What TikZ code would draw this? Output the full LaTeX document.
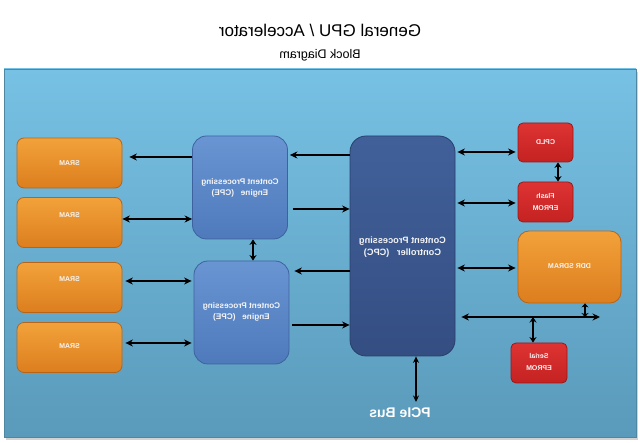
\documentclass[tikz,border=0pt]{standalone}
\usepackage{fontspec}
\setmainfont{Liberation Sans}
\usepackage{graphicx}
\usetikzlibrary{arrows.meta,calc}
\definecolor{bgtop}{HTML}{77C1E4}
\definecolor{bgbot}{HTML}{5A9ABA}
\definecolor{bgedge}{HTML}{4F87A3}
\definecolor{ortop}{HTML}{F2A23A}
\definecolor{orbot}{HTML}{DC7E1E}
\definecolor{oredge}{HTML}{B86418}
\definecolor{cpetop}{HTML}{6A95D3}
\definecolor{cpebot}{HTML}{4E79BB}
\definecolor{cpeedge}{HTML}{3E62A0}
\definecolor{cpctop}{HTML}{41609A}
\definecolor{cpcbot}{HTML}{344E82}
\definecolor{cpcedge}{HTML}{283F6A}
\definecolor{redtop}{HTML}{DE3333}
\definecolor{redbot}{HTML}{C42222}
\definecolor{rededge}{HTML}{9A1818}
\newcommand\mirtxt[1]{\scalebox{-1}[1]{\begin{tabular}{@{}c@{}}#1\end{tabular}}}
\begin{document}
\begin{tikzpicture}[x=1pt,y=-1pt,
  boxbase/.style={rounded corners=#1, line width=0.8pt, inner sep=0pt},
  srambox/.style={boxbase=7pt, draw=oredge, top color=ortop, bottom color=orbot, minimum width=105pt, minimum height=50pt},
  cpebox/.style={boxbase=14pt, draw=cpeedge, top color=cpetop, bottom color=cpebot, minimum width=95pt, minimum height=103pt},
  cpcbox/.style={boxbase=16pt, draw=cpcedge, top color=cpctop, bottom color=cpcbot, minimum width=105pt, minimum height=220pt},
  redbox/.style={boxbase=5pt, draw=rededge, top color=redtop, bottom color=redbot, minimum width=55pt, minimum height=40pt},
  ddrbox/.style={boxbase=11pt, draw=oredge, top color=ortop, bottom color=orbot, minimum width=103pt, minimum height=72pt},
  boxtxt/.style={text=white!92!gray, font=\fontsize{7}{8.5}\selectfont\bfseries, inner sep=0pt},
  bigtxt/.style={text=white!92!gray, font=\fontsize{8.2}{10}\selectfont\bfseries, inner sep=0pt},
  cpctxt/.style={text=white!92!gray, font=\fontsize{9.2}{11.5}\selectfont\bfseries, inner sep=0pt},
  one/.style={line width=2.6pt, -{Stealth[length=7.5pt,width=7pt]}},
  two/.style={line width=2.6pt, {Stealth[length=7.5pt,width=7pt]}-{Stealth[length=7.5pt,width=7pt]}},
  twos/.style={line width=2.6pt, {Stealth[length=5.5pt,width=7pt]}-{Stealth[length=5.5pt,width=7pt]}}
]
\useasboundingbox (0,0) rectangle (640,443);
\fill[white] (0,0) rectangle (640,443);
% background panel
\fill[gray!35] (6,72) rectangle (638,440);
\shade[top color=bgtop, bottom color=bgbot, draw=bgedge, line width=0.6pt] (4,69) rectangle (636,437);

% title
\node[inner sep=0pt, font=\fontsize{17}{19}\selectfont] (title) at (320,33) {\mirtxt{General GPU / Accelerator}};
\node[inner sep=0pt, font=\fontsize{12.5}{14}\selectfont] (subtitle) at (320,56) {\mirtxt{Block Diagram}};

% SRAM boxes
\node[srambox] (sram1) at (69.5,163) {};
\node[srambox] (sram2) at (69.5,222.5) {};
\node[srambox] (sram3) at (69.5,287.5) {};
\node[srambox] (sram4) at (69.5,347.5) {};
\node[boxtxt] (t1) at (69.5,164) {\mirtxt{SRAM}};
\node[boxtxt] (t2) at (69.5,216) {\mirtxt{SRAM}};
\node[boxtxt] (t3) at (69.5,280) {\mirtxt{SRAM}};
\node[boxtxt] (t4) at (69.5,347) {\mirtxt{SRAM}};

% CPE boxes
\node[cpebox] (cpe1) at (240,187.5) {};
\node[cpebox] (cpe2) at (241.5,312.5) {};
\node[bigtxt] (tc1) at (240,188) {\mirtxt{Content Processing\\[1pt]Engine\ \ \ (CPE)}};
\node[bigtxt] (tc2) at (241.5,312) {\mirtxt{Content Processing\\[1pt]Engine\ \ \ (CPE)}};

% CPC
\node[cpcbox] (cpc) at (402.5,246) {};
\node[cpctxt] (tcpc) at (402.5,247) {\mirtxt{Content Processing\\[1pt]Controller\ \ \ (CPC)}};

% right side
\node[redbox, minimum height=39pt] (cpld) at (545.5,142.5) {};
\node[redbox] (flash) at (545.5,202) {};
\node[ddrbox] (ddr) at (569.5,267) {};
\node[redbox, minimum width=56pt] (serial) at (539,363) {};
\node[boxtxt] (tcpld) at (545.5,143) {\mirtxt{CPLD}};
\node[boxtxt] (tflash) at (545.5,203) {\mirtxt{Flash\\[4pt]EPROM}};
\node[boxtxt] (tddr) at (569.5,267) {\mirtxt{DDR SDRAM}};
\node[boxtxt] (tserial) at (539,363) {\mirtxt{Serial\\[4pt]EPROM}};

% CPE - SRAM connectors
\draw[one, shorten >=7pt] (cpe1.west |- 0,157) -- (sram1.east |- 0,157);
\draw[two] (sram2.east |- 0,219) -- (cpe1.west |- 0,219);
\draw[two, shorten <=3pt, shorten >=2pt] (sram3.east |- 0,281) -- (cpe2.west |- 0,281);
\draw[two, shorten <=3pt, shorten >=2pt] (sram4.east |- 0,343) -- (cpe2.west |- 0,343);
\draw[twos] (cpe1.south -| 253,0) -- (cpe2.north -| 253,0);

% CPC - CPE connectors
\draw[one, shorten >=2pt] (cpc.west |- 0,155) -- (cpe1.east |- 0,155);
\draw[one, shorten <=5pt] (cpe1.east |- 0,209) -- (cpc.west |- 0,209);
\draw[one, shorten >=5pt] (cpc.west |- 0,271) -- (cpe2.east |- 0,271);
\draw[one, shorten <=3pt] (cpe2.east |- 0,325) -- (cpc.west |- 0,325);

% CPC - right side connectors
\draw[two, shorten <=2pt, shorten >=2pt] (cpc.east |- 0,152) -- (cpld.west |- 0,152);
\draw[two, shorten <=2pt, shorten >=2pt] (cpc.east |- 0,203) -- (flash.west |- 0,203);
\draw[two, shorten <=2pt, shorten >=2pt] (cpc.east |- 0,268) -- (ddr.west |- 0,268);
\draw[twos] (cpld.south -| 558,0) -- (flash.north -| 558,0);

% local bus
\coordinate (busR) at (600,317);
\coordinate (busA) at (585,317);
\coordinate (busB) at (533,317);
\draw[two, shorten <=6pt] (cpc.east |- busR) -- (busR);
\draw[line width=2.4pt, {Stealth[length=4pt,width=7pt]}-{Stealth[length=4pt,width=7pt]}] (ddr.south -| busA) -- (busA);
\draw[twos] (busB) -- (serial.north -| busB);

% PCIe
\coordinate (pcie) at (416,402);
\draw[line width=2.4pt, {Stealth[length=6.5pt,width=6pt]}-{Stealth[length=6.5pt,width=6pt]}] (cpc.south -| pcie) -- (pcie);
\node[inner sep=0pt, text=white, font=\fontsize{14}{16}\selectfont\bfseries] (tpcie) at (400,414) {\mirtxt{PCIe Bus}};
\end{tikzpicture}
\end{document}
